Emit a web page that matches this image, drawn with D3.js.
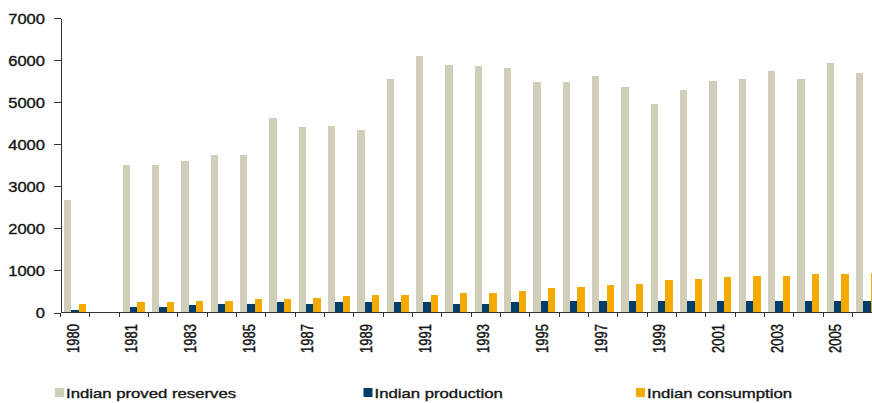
<!DOCTYPE html>
<html>
<head>
<meta charset="utf-8">
<script src="https://cdn.jsdelivr.net/npm/d3@7/dist/d3.min.js"></script>
<style>
  html, body { margin: 0; padding: 0; background: #fff; }
  svg { display: block; font-family: "Liberation Sans", Arial, sans-serif; }
  svg text { stroke: #141414; stroke-width: 0.35px; paint-order: stroke; }
</style>
</head>
<body>
<svg id="chart" width="872" height="403"></svg>
<script>
// Category slots: 1980, one empty slot, then 1981–2006
const categories = ["1980", "", "1981", "1982", "1983", "1984", "1985", "1986", "1987", "1988",
  "1989", "1990", "1991", "1992", "1993", "1994", "1995", "1996", "1997", "1998",
  "1999", "2000", "2001", "2002", "2003", "2004", "2005", "2006"];

const reserves = [2680, null, 3500, 3500, 3610, 3750, 3750, 4630, 4410, 4440,
  4340, 5550, 6100, 5890, 5860, 5810, 5480, 5480, 5620, 5360,
  4960, 5290, 5500, 5550, 5740, 5550, 5930, 5700];

const production = [70, null, 120, 140, 190, 210, 210, 260, 210, 260,
  260, 260, 260, 210, 210, 260, 285, 285, 285, 285,
  285, 285, 285, 285, 285, 285, 285, 285];

const consumption = [210, null, 260, 260, 285, 285, 330, 330, 355, 400,
  425, 425, 425, 475, 475, 520, 590, 615, 665, 690,
  785, 805, 855, 880, 880, 925, 925, 950];

const seriesNames = ["Indian proved reserves", "Indian production", "Indian consumption"];
const seriesValues = [reserves, production, consumption];
const seriesColors = ["#d0cdb9", "#003d6b", "#f4aa00"];

// Labelled slots on the x axis (every other slot)
const xTickLabels = ["1980", "1981", "1983", "1985", "1987", "1989", "1991", "1993",
  "1995", "1997", "1999", "2001", "2003", "2005"];
const yTicks = [0, 1000, 2000, 3000, 4000, 5000, 6000, 7000];

const svg = d3.select("#chart");
const plotLeft = 60.5, plotBottom = 312.5, plotTop = 18.3;
const slotStep = 29.33;

const x = d3.scaleBand()
  .domain(d3.range(categories.length))
  .range([plotLeft, plotLeft + slotStep * categories.length])
  .paddingInner(0).paddingOuter(0);

const xs = d3.scaleBand()
  .domain(d3.range(seriesNames.length))
  .range([0, x.bandwidth()])
  .paddingInner(0).paddingOuter(0.5);

const y = d3.scaleLinear().domain([0, 7000]).range([plotBottom, plotTop]);

// Bars
const groups = svg.append("g").selectAll("g")
  .data(categories.map((c, i) => i))
  .join("g")
  .attr("transform", i => `translate(${x(i)},0)`);

groups.selectAll("rect")
  .data(i => seriesValues.map((vals, s) => ({ s, v: vals[i] })).filter(d => d.v != null))
  .join("rect")
  .attr("x", d => xs(d.s))
  .attr("width", xs.bandwidth())
  .attr("y", d => y(d.v))
  .attr("height", d => y(0) - y(d.v))
  .attr("fill", d => seriesColors[d.s])
  .attr("shape-rendering", "crispEdges");

const axisColor = "#333";
const textColor = "#141414";

// Y axis
const yAxis = svg.append("g")
  .attr("transform", `translate(${plotLeft},0)`)
  .call(d3.axisLeft(y).tickValues(yTicks).tickSize(7).tickSizeOuter(0).tickFormat(d3.format("d")));
yAxis.select(".domain").attr("stroke", axisColor).attr("shape-rendering", "crispEdges");
yAxis.selectAll(".tick line").attr("stroke", axisColor).attr("shape-rendering", "crispEdges");
yAxis.selectAll(".tick text")
  .attr("x", 0)
  .attr("dy", "0.37em")
  .attr("transform", "translate(-15.5,0) scale(1.14,1)")
  .attr("fill", textColor)
  .style("font-size", "14.5px");

// X axis line with ticks at slot boundaries
const xAxis = svg.append("g");
xAxis.append("line")
  .attr("x1", plotLeft).attr("x2", x.range()[1])
  .attr("y1", plotBottom).attr("y2", plotBottom)
  .attr("stroke", axisColor).attr("shape-rendering", "crispEdges");
xAxis.selectAll("line.tick")
  .data(d3.range(categories.length + 1))
  .join("line")
  .attr("class", "tick")
  .attr("x1", i => x.range()[0] + i * x.step())
  .attr("x2", i => x.range()[0] + i * x.step())
  .attr("y1", plotBottom).attr("y2", plotBottom + 4)
  .attr("stroke", axisColor).attr("shape-rendering", "crispEdges");

// Rotated year labels
xAxis.selectAll("text")
  .data(xTickLabels)
  .join("text")
  .attr("transform", d => {
    const i = categories.indexOf(d);
    return `translate(${x(i) + x.bandwidth() / 2 + 3.6},${plotBottom + 11.5}) scale(1.25,1) rotate(-90)`;
  })
  .attr("text-anchor", "end")
  .attr("fill", textColor)
  .style("font-size", "13px")
  .text(d => d);

// Legend
const legendX = [55, 363.5, 636];
const legend = svg.append("g").selectAll("g")
  .data(seriesNames)
  .join("g")
  .attr("transform", (d, i) => `translate(${legendX[i]},388)`);
legend.append("rect")
  .attr("width", 9).attr("height", 9)
  .attr("fill", (d, i) => seriesColors[i]);
legend.append("text")
  .attr("transform", "translate(11,9.6) scale(1.24,1)")
  .attr("fill", textColor)
  .style("font-size", "13.5px")
  .text(d => d);
</script>
</body>
</html>
